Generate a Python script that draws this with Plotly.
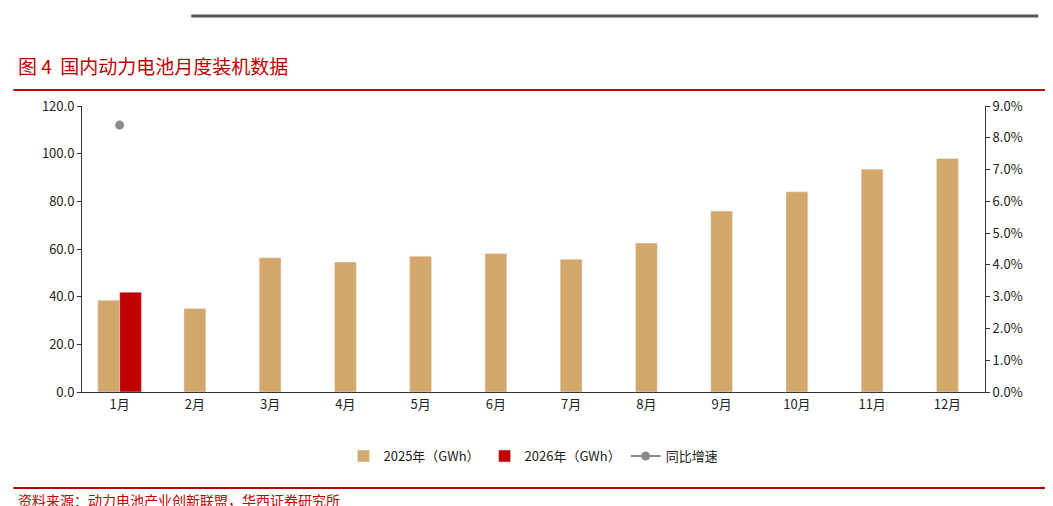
import plotly.graph_objects as go

months = ["1月", "2月", "3月", "4月", "5月", "6月", "7月", "8月", "9月", "10月", "11月", "12月"]
v2025 = [38.5, 35.0, 56.3, 54.5, 57.0, 58.1, 55.7, 62.5, 75.9, 84.0, 93.5, 98.0]
v2026 = [41.9] + [None] * 11
yoy = [0.084] + [None] * 11

font = "Noto Sans CJK SC"
red = "#c00000"

fig = go.Figure()
# 2025 bars: Jan sits left of centre (next to 2026), other months centred
w = 0.29
fig.add_trace(go.Bar(
    x=list(range(12)), y=v2025, name="2025年（GWh）",
    marker_color="#d4a76a", width=w,
    offset=[-w] + [-w / 2] * 11,
))
fig.add_trace(go.Bar(
    x=list(range(12)), y=v2026, name="2026年（GWh）",
    marker_color=red, width=w, offset=0,
))
fig.add_trace(go.Scatter(
    x=list(range(12)), y=yoy, name="同比增速", yaxis="y2",
    mode="lines+markers", line=dict(color="#8c8c8c", width=2),
    marker=dict(color="#8c8c8c", size=9),
))

fig.update_layout(
    width=1053, height=506,
    paper_bgcolor="white", plot_bgcolor="white",
    barmode="overlay",
    font=dict(family=font, size=13, color="#222"),
    margin=dict(l=74, r=76, t=98, b=122),
    xaxis=dict(
        tickvals=list(range(12)), ticktext=months, range=[-0.5, 11.5],
        showline=True, linecolor="#333", ticks="", showgrid=False,
    ),
    yaxis=dict(
        range=[0, 120], dtick=20, tickformat=".1f",
        showline=True, linecolor="#333", ticks="outside", ticklen=4,
        tickcolor="#333", showgrid=False, zeroline=False,
    ),
    yaxis2=dict(
        overlaying="y", side="right", range=[0, 0.09], dtick=0.01,
        tickformat=".1%", showline=True, linecolor="#333",
        ticks="outside", ticklen=4, tickcolor="#333", showgrid=False,
        zeroline=False,
    ),
    legend=dict(
        orientation="h", x=0.5, xanchor="center", y=-0.224, yanchor="middle",
        font=dict(size=13), traceorder="normal",
    ),
    showlegend=True,
)

fig.add_annotation(
    text="图 4  国内动力电池月度装机数据", xref="paper", yref="paper",
    x=-0.073, xanchor="left", y=1.143, yanchor="middle",
    showarrow=False, font=dict(size=19, color=red, family=font),
)
fig.add_annotation(
    text="资料来源：动力电池产业创新联盟，华西证券研究所", xref="paper", yref="paper",
    x=-0.073, xanchor="left", y=-0.378, yanchor="middle",
    showarrow=False, font=dict(size=14, color=red, family=font),
)
# decorative lines
fig.add_shape(type="line", xref="paper", yref="paper", x0=-0.076, x1=1.075,
              y0=1.056, y1=1.056, line=dict(color=red, width=2))
fig.add_shape(type="line", xref="paper", yref="paper", x0=-0.076, x1=1.075,
              y0=-0.336, y1=-0.336, line=dict(color=red, width=2))
fig.add_shape(type="line", xref="paper", yref="paper", x0=0.121, x1=1.059,
              y0=1.315, y1=1.315, line=dict(color="#555", width=3))

fig.write_html("out.html")
